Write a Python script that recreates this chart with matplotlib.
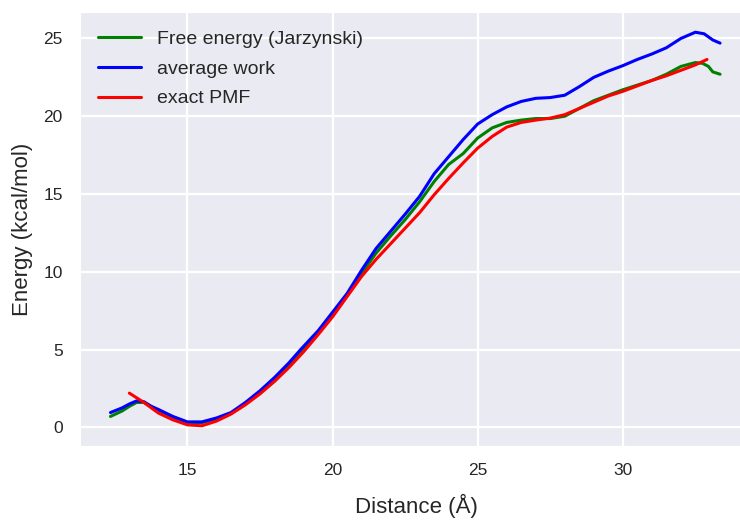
import matplotlib
matplotlib.use("Agg")
import matplotlib.pyplot as plt
import seaborn as sns

# ---- data ----
pmf_x = [13.0, 13.5, 14.0, 14.5, 15.0, 15.5, 16.0, 16.5, 17.0, 17.5, 18.0, 18.5,
         19.0, 19.5, 20.0, 20.5, 21.0, 21.5, 22.0, 22.5, 23.0, 23.5, 24.0, 24.5,
         25.0, 25.5, 26.0, 26.5, 27.0, 27.5, 28.0, 28.5, 29.0, 29.5, 30.0, 30.5,
         31.0, 31.5, 32.0, 32.5, 32.9]
pmf_y = [2.2, 1.6, 0.92, 0.48, 0.16, 0.1, 0.4, 0.85, 1.45, 2.15, 2.95, 3.85,
         4.85, 5.95, 7.1, 8.4, 9.7, 10.8, 11.8, 12.8, 13.8, 14.95, 16.0, 17.0,
         17.95, 18.7, 19.3, 19.6, 19.75, 19.88, 20.1, 20.5, 20.9, 21.3, 21.6, 21.95,
         22.3, 22.6, 22.95, 23.3, 23.65]

work_x = [12.35, 12.75, 13.0, 13.25, 13.5, 13.75, 14.0, 14.5, 15.0, 15.5, 16.0, 16.5,
          17.0, 17.5, 18.0, 18.5, 18.9, 19.5, 20.0, 20.5, 21.0, 21.5, 22.0, 22.5,
          23.0, 23.5, 24.0, 24.5, 25.0, 25.5, 26.0, 26.5, 27.0, 27.5, 28.0, 28.5,
          29.0, 29.5, 30.0, 30.5, 31.0, 31.5, 32.0, 32.5, 32.8, 33.1, 33.35]
work_y = [0.95, 1.25, 1.5, 1.7, 1.65, 1.35, 1.15, 0.7, 0.35, 0.35, 0.6, 0.95,
          1.6, 2.35, 3.2, 4.15, 5.0, 6.2, 7.4, 8.6, 10.1, 11.5, 12.6, 13.7,
          14.85, 16.3, 17.4, 18.5, 19.5, 20.1, 20.6, 20.95, 21.15, 21.2, 21.35, 21.9,
          22.5, 22.9, 23.25, 23.65, 24.0, 24.4, 25.0, 25.4, 25.3, 24.9, 24.7]

jar_x = [12.35, 12.75, 13.0, 13.25, 13.5, 14.0, 14.5, 15.0, 15.5, 16.0, 16.5, 17.0,
         17.5, 18.0, 18.5, 19.0, 19.5, 20.0, 20.5, 21.0, 21.5, 22.0, 22.5, 23.0,
         23.5, 24.0, 24.5, 25.0, 25.5, 26.0, 26.5, 27.0, 27.5, 28.0, 28.5, 29.0,
         29.5, 30.0, 30.5, 31.0, 31.5, 32.0, 32.5, 32.75, 32.95, 33.1, 33.35]
jar_y = [0.7, 1.05, 1.35, 1.6, 1.6, 1.1, 0.65, 0.3, 0.3, 0.55, 0.9, 1.55,
         2.3, 3.15, 4.05, 5.1, 6.1, 7.3, 8.5, 9.9, 11.2, 12.3, 13.35, 14.5,
         15.8, 16.9, 17.6, 18.6, 19.25, 19.6, 19.75, 19.85, 19.85, 20.0, 20.5, 21.0,
         21.35, 21.7, 22.0, 22.3, 22.7, 23.2, 23.45, 23.4, 23.2, 22.85, 22.7]

labels = ["Free energy (Jarzynski)", "average work", "exact PMF"]

sns.set_style("darkgrid")
plt.rcParams['font.family'] = ['Liberation Sans', 'DejaVu Sans']

fig = plt.figure(figsize=(7.4, 5.21), dpi=100)
W, H = 740, 521
ax = fig.add_axes([80 / W, (H - 446) / H, 672 / W, (446 - 12) / H])

lw = 2.2
ax.plot(jar_x, jar_y, color="green", lw=lw, label=labels[0])
ax.plot(work_x, work_y, color="blue", lw=lw, label=labels[1])
ax.plot(pmf_x, pmf_y, color="red", lw=lw, label=labels[2])

ax.set_xlim(11.3, 34.45)
ax.set_ylim(-1.2, 26.7)
ax.set_xticks([15, 20, 25, 30])
ax.set_yticks([0, 5, 10, 15, 20, 25])
ax.grid(True, color="white", linewidth=1.6)
ax.tick_params(labelsize=12.5, colors=".15", pad=9)
ax.set_xlabel("Distance (Å)", fontsize=16, color=".15", labelpad=11)
ax.set_ylabel("Energy (kcal/mol)", fontsize=16, color=".15", labelpad=7)

leg = ax.legend(loc="upper left", frameon=False, fontsize=14,
                handlelength=2.2, handletextpad=0.8, labelspacing=0.62,
                borderaxespad=0.55)
for t in leg.get_texts():
    t.set_color(".15")

fig.savefig("out.png", dpi=100)
